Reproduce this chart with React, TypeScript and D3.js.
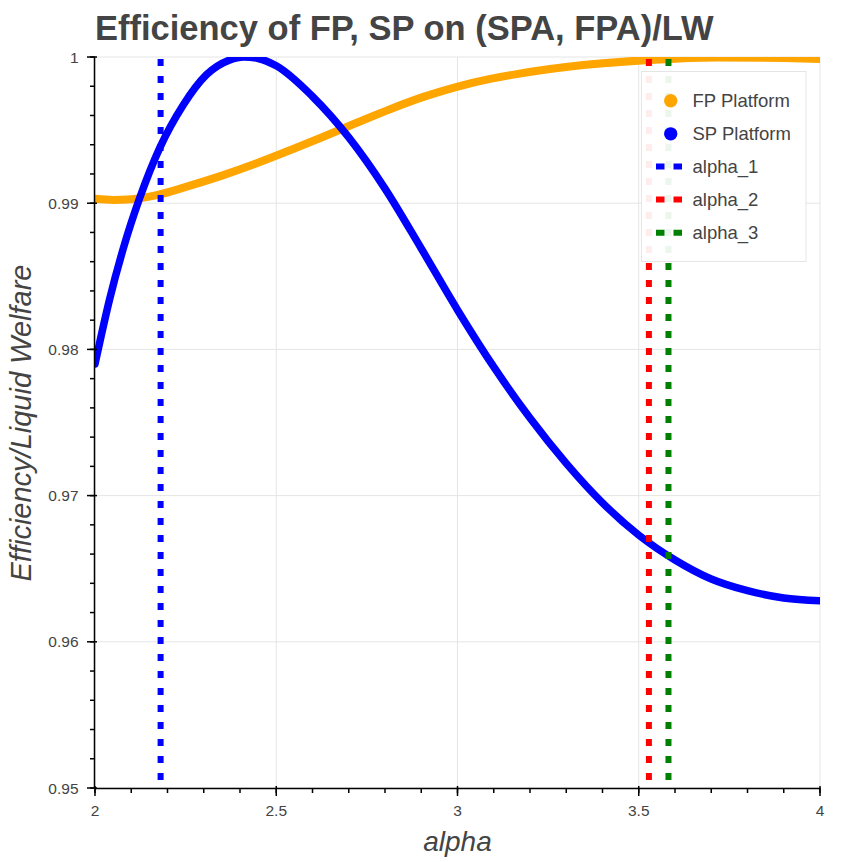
import React from "react";
import * as d3 from "d3";

const spAlpha = [2.0, 2.041, 2.078, 2.124, 2.179, 2.243, 2.308, 2.372, 2.41, 2.45, 2.5, 2.6, 2.7, 2.8, 2.9, 3.0, 3.1, 3.2, 3.3, 3.4, 3.5, 3.6, 3.7, 3.8, 3.9, 4.0];
const spValue = [0.979, 0.9835, 0.9869, 0.9904, 0.9938, 0.9967, 0.9988, 0.9998, 1.0, 0.9999, 0.9994, 0.9973, 0.9945, 0.991, 0.9869, 0.9827, 0.9788, 0.9753, 0.9722, 0.9695, 0.9673, 0.9656, 0.9643, 0.9635, 0.963, 0.9628];

const fpAlpha = [2.0, 2.05, 2.1, 2.17, 2.262, 2.354, 2.446, 2.538, 2.63, 2.722, 2.814, 2.906, 2.998, 3.09, 3.163, 3.347, 3.531, 3.715, 3.899, 4.0];
const fpValue = [0.9903, 0.99022, 0.99027, 0.99055, 0.9912, 0.99192, 0.99273, 0.99362, 0.99455, 0.9955, 0.99643, 0.99727, 0.99796, 0.9985, 0.99883, 0.99945, 0.9998, 0.99997, 0.99993, 0.99987];

const alphaMarks = [2.181, 3.528, 3.582];
const alphaNames = ["alpha_1", "alpha_2", "alpha_3"];
const alphaColors = ["blue", "red", "green"];

const xTicks = [2, 2.5, 3, 3.5, 4];
const yTicks = [0.95, 0.96, 0.97, 0.98, 0.99, 1];

const W = 862, H = 862;
const L = 95, R = 820, T = 57, B = 788;

export default function App() {
  const x = d3.scaleLinear().domain([2, 4]).range([L, R]);
  const y = d3.scaleLinear().domain([0.95, 1]).range([B, T]);
  const line = d3.line<[number, number]>().x(d => x(d[0])).y(d => y(d[1])).curve(d3.curveMonotoneX);
  const sp = line(spAlpha.map((a, i) => [a, spValue[i]]) as [number, number][]) || "";
  const fp = line(fpAlpha.map((a, i) => [a, fpValue[i]]) as [number, number][]) || "";
  const xMinor = d3.range(20, 41).map(v => v / 10);
  const yMinor = d3.range(0, 26).map(v => 0.95 + v * 0.002);
  const fmt = (v: number) => (Math.abs(v - 1) < 1e-9 ? "1" : String(+v.toFixed(3)));
  const font = "'Liberation Sans', Arial, Helvetica, sans-serif";
  const legendItems = [
    { name: "FP Platform", color: "orange", kind: "circle" },
    { name: "SP Platform", color: "blue", kind: "circle" },
    ...alphaNames.map((n, i) => ({ name: n, color: alphaColors[i], kind: "dash" })),
  ];
  return (
    <svg width={W} height={H} style={{ position: "absolute", left: 0, top: 0, background: "white" }} fontFamily={font}>
      <defs>
        <clipPath id="frame">
          <rect x={L} y={T} width={R - L} height={B - T} />
        </clipPath>
      </defs>
      {xTicks.map(t => (
        <line key={"gx" + t} x1={x(t)} x2={x(t)} y1={T} y2={B} stroke="#e5e5e5" strokeWidth={1} />
      ))}
      {yTicks.map(t => (
        <line key={"gy" + t} x1={L} x2={R} y1={y(t)} y2={y(t)} stroke="#e5e5e5" strokeWidth={1} />
      ))}
      <g clipPath="url(#frame)">
        <path d={fp} fill="none" stroke="orange" strokeWidth={8} strokeLinecap="round" strokeLinejoin="round" />
        <path d={sp} fill="none" stroke="blue" strokeWidth={7.5} strokeLinecap="round" strokeLinejoin="round" />
        {alphaMarks.map((a, i) => (
          <line key={"am" + i} x1={x(a)} x2={x(a)} y1={T + 2} y2={B} stroke={alphaColors[i]} strokeWidth={6} strokeDasharray="7 10" />
        ))}
      </g>
      <line x1={L} x2={R} y1={B + 0.5} y2={B + 0.5} stroke="black" strokeWidth={1.5} />
      <line x1={L - 0.5} x2={L - 0.5} y1={T} y2={B} stroke="black" strokeWidth={1.5} />
      {xMinor.map(t => (
        <line key={"xm" + t} x1={x(t)} x2={x(t)} y1={B} y2={B + 5} stroke="black" strokeWidth={1.5} />
      ))}
      {xTicks.map(t => (
        <g key={"xt" + t}>
          <line x1={x(t)} x2={x(t)} y1={B - 2} y2={B + 8} stroke="black" strokeWidth={1.5} />
          <text x={x(t)} y={B + 27.5} textAnchor="middle" fontSize={15.5} fill="#444">{String(t)}</text>
        </g>
      ))}
      {yMinor.map(t => (
        <line key={"ym" + t} x1={L - 5} x2={L} y1={y(t)} y2={y(t)} stroke="black" strokeWidth={1.5} />
      ))}
      {yTicks.map(t => (
        <g key={"yt" + t}>
          <line x1={L - 8} x2={L + 2} y1={y(t)} y2={y(t)} stroke="black" strokeWidth={1.5} />
          <text x={78.5} y={y(t) + 5.5} textAnchor="end" fontSize={15.5} fill="#444">{fmt(t)}</text>
        </g>
      ))}
      <text x={(L + R) / 2} y={851} textAnchor="middle" fontSize={28} fontStyle="italic" fill="#444">alpha</text>
      <text transform={`translate(30.5, 423) rotate(-90)`} textAnchor="middle" fontSize={29} fontStyle="italic" fill="#444">Efficiency/Liquid Welfare</text>
      <text x={95} y={40} fontSize={34.5} fontWeight="bold" fill="#444">Efficiency of FP, SP on (SPA, FPA)/LW</text>
      <rect x={641.5} y={71.5} width={164.5} height={190} fill="white" fillOpacity={0.93} stroke="#e5e5e5" strokeWidth={1} />
      {legendItems.map((it, i) => {
        const base = 106.7 + i * 33.15;
        return (
          <g key={"lg" + i}>
            {it.kind === "circle" ? (
              <circle cx={670.7} cy={base - 6} r={6.7} fill={it.color} />
            ) : (
              <line x1={656} x2={683} y1={base - 6.6} y2={base - 6.6} stroke={it.color} strokeWidth={6} strokeDasharray="8.5 9" />
            )}
            <text x={692.5} y={base} fontSize={18.5} fill="#444">{it.name}</text>
          </g>
        );
      })}
    </svg>
  );
}
